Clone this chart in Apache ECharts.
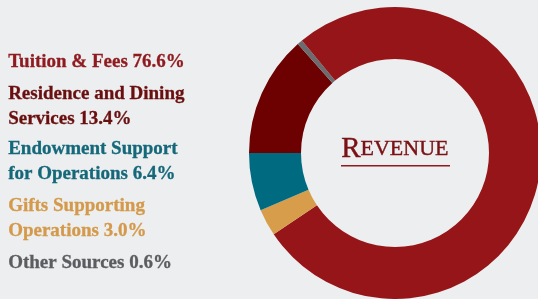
<!DOCTYPE html>
<html>
<head>
<meta charset="utf-8">
<script src="https://cdn.jsdelivr.net/npm/echarts@6/dist/echarts.min.js"></script>
<style>
  html, body { margin: 0; padding: 0; background: #eceeef; }
  #chart { width: 538px; height: 299px; }
</style>
</head>
<body>
<div id="chart"></div>
<script>
// legend order (as listed on the left)
const labels = ['Tuition & Fees', 'Residence and Dining\nServices', 'Endowment Support\nfor Operations', 'Gifts Supporting\nOperations', 'Other Sources'];
const shares = [76.6, 13.4, 6.4, 3.0, 0.6];
const sliceColors = ['#961519', '#6d0000', '#006a80', '#d79d4b', '#6b6c6f'];
const textColors = ['#8f1a1f', '#6a0f10', '#14687a', '#d4994a', '#5c5d60'];
// order of the slices going clockwise from 9 o'clock
const ringOrder = [1, 4, 0, 3, 2];

const chart = echarts.init(document.getElementById('chart'));

const font = '"Liberation Serif", "DejaVu Serif", serif';
const legendTop = [50, 82, 137, 194, 251];

const texts = labels.map((name, i) => ({
  type: 'text',
  left: 8,
  top: legendTop[i],
  style: {
    text: name + ' ' + shares[i].toFixed(1) + '%',
    fill: textColors[i],
    font: 'bold 19px ' + font,
    lineHeight: 25,
    stroke: textColors[i],
    lineWidth: 0.3
  }
}));

chart.setOption({
  backgroundColor: '#eceeef',
  graphic: texts.concat([
    {
      type: 'text',
      left: 341,
      top: 135,
      style: {
        text: '{a|R}{b|EVENUE}',
        stroke: '#7a1114',
        lineWidth: 0.4,
        rich: {
          a: {fontFamily: font, fontSize: 29, fill: '#7a1114', color: '#7a1114'},
          b: {fontFamily: font, fontSize: 22, fill: '#7a1114', color: '#7a1114'}
        }
      }
    },
    {
      type: 'rect',
      shape: {x: 341, y: 165, width: 109, height: 1.5},
      style: {fill: '#8f1a1f'}
    }
  ]),
  series: [
    {
      name: 'Revenue',
      type: 'pie',
      center: [395, 153],
      radius: [94, 146],
      startAngle: 180,
      clockwise: true,
      label: {show: false},
      labelLine: {show: false},
      silent: true,
      data: ringOrder.map(i => ({
        name: labels[i],
        value: shares[i],
        itemStyle: {color: sliceColors[i]}
      }))
    }
  ]
});
</script>
</body>
</html>
